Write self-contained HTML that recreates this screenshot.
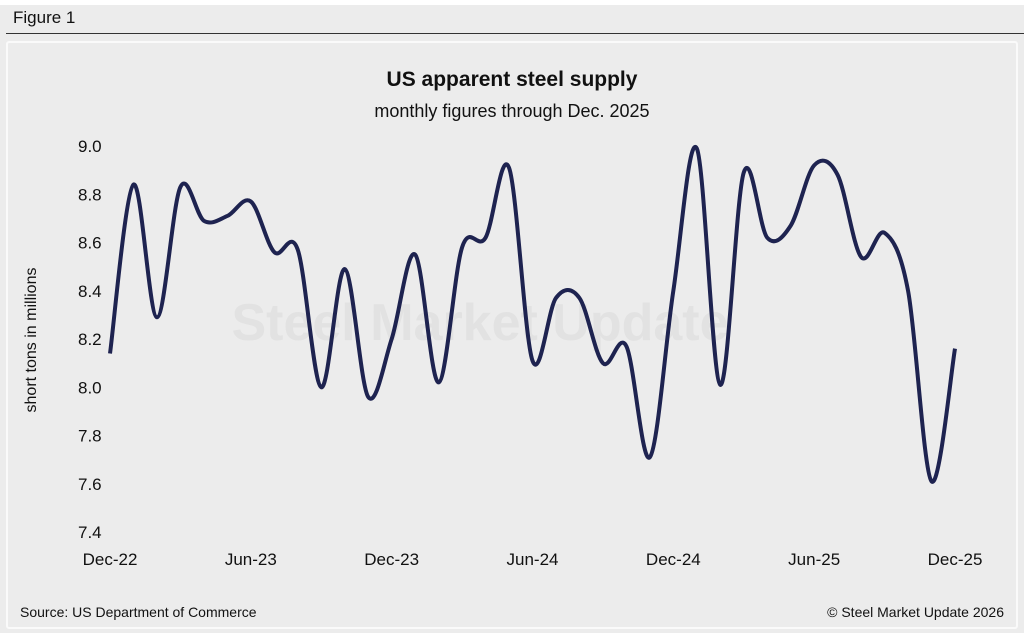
<!DOCTYPE html>
<html><head><meta charset="utf-8"><style>
body{margin:0;width:1024px;height:633px;background:#ececec;font-family:"Liberation Sans",Arial,sans-serif;overflow:hidden;position:relative}
#top{position:absolute;left:0;top:0;width:1024px;height:5px;background:#fff}
#fig{position:absolute;left:13px;top:8px;font-size:17px;color:#111}
#rule{position:absolute;left:6px;top:33px;width:1018px;height:1px;background:#333}
#panel{position:absolute;left:6px;top:41px;width:1012px;height:588px;border:2px solid #fafafa;border-radius:3px;box-sizing:border-box}
svg{position:absolute;left:0;top:0}
</style></head><body>
<div id="top"></div>
<div id="fig">Figure 1</div>
<div id="rule"></div>
<div id="panel"></div>
<svg id="chart" width="1024" height="633">
<text x="512" y="86" text-anchor="middle" font-size="21" font-weight="bold" fill="#111">US apparent steel supply</text>
<text x="512" y="117" text-anchor="middle" font-size="18" fill="#111">monthly figures through Dec. 2025</text>
<text x="480" y="340" text-anchor="middle" font-size="52" font-weight="bold" fill="#e2e2e2">Steel Market Update</text>
<text transform="translate(36,340) rotate(-90)" text-anchor="middle" font-size="16" fill="#111">short tons in millions</text>
<text x="20" y="617" font-size="14" fill="#111">Source: US Department of Commerce</text>
<text x="1004" y="617" text-anchor="end" font-size="14" fill="#111">© Steel Market Update 2026</text>
<g id="yticks"></g><g id="xticks"></g><g id="series"></g>
</svg>
<script>
const values=[8.14,8.84,8.29,8.83,8.69,8.71,8.77,8.56,8.57,8.00,8.49,7.96,8.2,8.55,8.02,8.58,8.62,8.91,8.11,8.37,8.37,8.10,8.17,7.71,8.4,8.99,8.01,8.89,8.62,8.67,8.92,8.88,8.54,8.64,8.40,7.61,8.16];
const yTicks=[9.0,8.8,8.6,8.4,8.2,8.0,7.8,7.6,7.4];
const xLabels=["Dec-22","Jun-23","Dec-23","Jun-24","Dec-24","Jun-25","Dec-25"];
const xLabelIdx=[0,6,12,18,24,30,36];
const NS="http://www.w3.org/2000/svg";
const x=i=>110+i*(955-110)/36;
const y=v=>146+(9.0-v)/1.6*(532-146);
const yg=document.getElementById('yticks');
yTicks.forEach(t=>{const e=document.createElementNS(NS,'text');
e.setAttribute('x',78);e.setAttribute('y',y(t)+6);e.setAttribute('font-size',17);e.setAttribute('fill','#111');


e.textContent=t.toFixed(1);yg.appendChild(e);});
const xg=document.getElementById('xticks');
xLabels.forEach((l,k)=>{const e=document.createElementNS(NS,'text');
e.setAttribute('x',x(xLabelIdx[k]));e.setAttribute('y',565);e.setAttribute('font-size',17);e.setAttribute('fill','#111');e.setAttribute('text-anchor','middle');


e.textContent=l;xg.appendChild(e);});
const P=values.map((v,i)=>[x(i),y(v)]);
let d=`M${P[0][0]},${P[0][1]}`;
for(let i=0;i<P.length-1;i++){const p0=P[Math.max(0,i-1)],p1=P[i],p2=P[i+1],p3=P[Math.min(P.length-1,i+2)];
d+=` C${p1[0]+(p2[0]-p0[0])/6},${p1[1]+(p2[1]-p0[1])/6} ${p2[0]-(p3[0]-p1[0])/6},${p2[1]-(p3[1]-p1[1])/6} ${p2[0]},${p2[1]}`;}
const path=document.createElementNS(NS,'path');
path.setAttribute('d',d);path.setAttribute('fill','none');path.setAttribute('stroke','#1e2350');path.setAttribute('stroke-width',4);path.setAttribute('stroke-linejoin','round');


document.getElementById('series').appendChild(path);
</script>
</body></html>
